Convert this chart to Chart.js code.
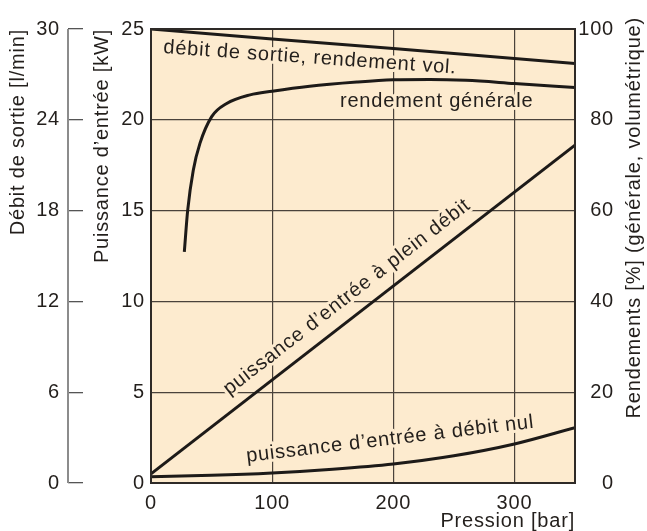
<!DOCTYPE html>
<html lang="fr">
<head>
<meta charset="utf-8">
<title>Pompe : puissance et rendements</title>
<script src="https://cdn.jsdelivr.net/npm/chart.js@4.4.1/dist/chart.umd.min.js"></script>
<style>
  html, body { margin: 0; padding: 0; background: #fff; }
  #cadre { position: relative; width: 647px; height: 531px; }
</style>
</head>
<body>
<div id="cadre"><canvas id="chartPompe"></canvas></div>
<script>
// valeurs (pression en bar)
const pressionVol = [0, 100, 200, 300, 350];
const rendementVol = [100, 97.8, 95.7, 93.5, 92.4];

const pressionGen = [27.5, 30.3, 34.9, 40.4, 50.1, 62.5, 81.8, 100, 131, 170, 200, 230, 260, 300, 350];
const rendementGen = [50.9, 60.1, 68.9, 74.8, 80.7, 83.6, 85.5, 86.3, 87.4, 88.3, 88.8, 88.9, 88.7, 88.0, 87.1];

const pressionPlein = [0, 350];
const puissancePlein = [0.5, 18.6];

const pressionNul = [0, 50, 100, 150, 200, 250, 300, 350];
const puissanceNul = [0.35, 0.42, 0.55, 0.76, 1.05, 1.5, 2.15, 3.05];

// étiquettes posées le long des courbes
const etiquettes = [
    { texte: "débit de sortie, rendement vol.", x: 9.9, y: 94.7, axe: "yR", angle: 4, align: "left", base: "alphabetic" },
    { texte: "rendement générale", x: 156, y: 82.8, axe: "yR", angle: 0, align: "left", base: "alphabetic" },
    { texte: "puissance d\u2019entrée à plein débit", x: 161.8, y: 10.24, axe: "yP", angle: -37.8, align: "center", base: "middle" },
    { texte: "puissance d\u2019entrée à débit nul", x: 79.2, y: 1.16, axe: "yP", angle: -6.8, align: "left", base: "alphabetic" },
];

const police = "'Liberation Sans', Arial, Helvetica, sans-serif";
const couleurTexte = "#231f1c";
const couleurGrille = "#4a423b";
const fond = "#fdebcf";

const pts = (xs, ys) => xs.map((x, i) => ({ x: x, y: ys[i] }));

const decor = {
    id: "decor",
    beforeUpdate(chart) {
        chart.ctx.letterSpacing = "0.8px";
    },
    beforeDraw(chart) {
        const { ctx, chartArea: a } = chart;
        ctx.letterSpacing = "0.8px";
        ctx.save();
        ctx.fillStyle = fond;
        ctx.fillRect(a.left, a.top, a.right - a.left, a.bottom - a.top);
        ctx.restore();
    },
    beforeDatasetsDraw(chart) {
        const { ctx, scales } = chart;
        ctx.save();
        ctx.font = "20px " + police;
        ctx.fillStyle = couleurTexte;
        ctx.strokeStyle = fond;
        ctx.lineWidth = 6;
        ctx.lineJoin = "round";
        etiquettes.forEach((e) => {
            const px = scales.x.getPixelForValue(e.x);
            const py = scales[e.axe].getPixelForValue(e.y);
            ctx.save();
            ctx.translate(px, py);
            ctx.rotate((e.angle * Math.PI) / 180);
            ctx.textAlign = e.align;
            ctx.textBaseline = e.base;
            ctx.strokeText(e.texte, 0, 0);
            ctx.fillText(e.texte, 0, 0);
            ctx.restore();
        });
        ctx.restore();
    },
    afterDraw(chart) {
        const { ctx, chartArea: a, scales } = chart;
        ctx.save();
        // cadre du graphique
        ctx.strokeStyle = "#2e2a27";
        ctx.lineWidth = 2;
        ctx.strokeRect(a.left, a.top, a.right - a.left, a.bottom - a.top);
        // ligne de l'axe débit (l/min)
        const q = scales.yQ;
        const xq = q.right - 15;
        ctx.strokeStyle = "#8c8c8c";
        ctx.lineWidth = 2;
        ctx.beginPath();
        ctx.moveTo(xq, q.top);
        ctx.lineTo(xq, q.bottom);
        ctx.stroke();
        // titre de l'axe des rendements, lu de bas en haut
        const r = scales.yR;
        ctx.translate(r.right + 20, r.top - 12);
        ctx.rotate(-Math.PI / 2);
        ctx.font = "20px " + police;
        ctx.fillStyle = couleurTexte;
        ctx.textAlign = "right";
        ctx.textBaseline = "middle";
        ctx.fillText("Rendements [%] (générale, volumétrique)", 0, 0);
        ctx.restore();
    },
};

const ctxP = document.getElementById("chartPompe");

new Chart(ctxP, {
    type: "line",
    data: {
        datasets: [
            { label: "débit de sortie, rendement vol.", data: pts(pressionVol, rendementVol), yAxisID: "yR" },
            { label: "rendement générale", data: pts(pressionGen, rendementGen), yAxisID: "yR", cubicInterpolationMode: "monotone" },
            { label: "puissance d'entrée à plein débit", data: pts(pressionPlein, puissancePlein), yAxisID: "yP" },
            { label: "puissance d'entrée à débit nul", data: pts(pressionNul, puissanceNul), yAxisID: "yP", cubicInterpolationMode: "monotone" },
        ],
    },
    options: {
        responsive: true,
        maintainAspectRatio: false,
        animation: false,
        layout: { padding: { top: 29, left: 0, right: 33, bottom: 0 } },
        elements: {
            point: { radius: 0 },
            line: { borderColor: "#1d1a18", borderWidth: 3, fill: false },
        },
        plugins: {
            legend: { display: false },
            tooltip: { enabled: false },
        },
        scales: {
            x: {
                type: "linear",
                min: 0,
                max: 350,
                ticks: { stepSize: 100, includeBounds: false, padding: 8, color: couleurTexte, font: { family: police, size: 20 } },
                grid: { color: couleurGrille, lineWidth: 1.2, drawTicks: false },
                border: { display: false },
                title: {
                    display: true,
                    text: "Pression [bar]",
                    align: "end",
                    color: couleurTexte,
                    font: { family: police, size: 20, lineHeight: 1 },
                    padding: { top: 0, bottom: 0 },
                },
                afterFit: (s) => { s.height = 48; },
            },
            yQ: {
                type: "linear",
                position: "left",
                weight: 2,
                min: 0,
                max: 30,
                ticks: { stepSize: 6, padding: 8, color: couleurTexte, font: { family: police, size: 20 } },
                grid: { drawOnChartArea: false, drawTicks: true, tickLength: 15, color: "#555", lineWidth: 1.3 },
                border: { display: false },
                title: {
                    display: true,
                    text: "Débit de sortie [l/min]",
                    align: "end",
                    color: couleurTexte,
                    font: { family: police, size: 20, lineHeight: 1 },
                    padding: { top: 8, bottom: 0 },
                },
                afterFit: (s) => { s.width = 83; },
            },
            yP: {
                type: "linear",
                position: "left",
                weight: 1,
                min: 0,
                max: 25,
                ticks: { stepSize: 5, padding: 6, color: couleurTexte, font: { family: police, size: 20 } },
                grid: { color: couleurGrille, lineWidth: 1.2, drawTicks: false },
                border: { display: false },
                title: {
                    display: true,
                    text: "Puissance d\u2019entrée [kW]",
                    align: "end",
                    color: couleurTexte,
                    font: { family: police, size: 20, lineHeight: 1 },
                    padding: { top: 9.5, bottom: 0 },
                },
                afterFit: (s) => { s.width = 68; },
            },
            yR: {
                type: "linear",
                position: "right",
                min: 0,
                max: 100,
                ticks: { stepSize: 20, padding: 5, crossAlign: "far", color: couleurTexte, font: { family: police, size: 20 } },
                grid: { display: false, drawTicks: false },
                border: { display: false },
                afterFit: (s) => { s.width = 39; },
            },
        },
    },
    plugins: [decor],
});
</script>
</body>
</html>
